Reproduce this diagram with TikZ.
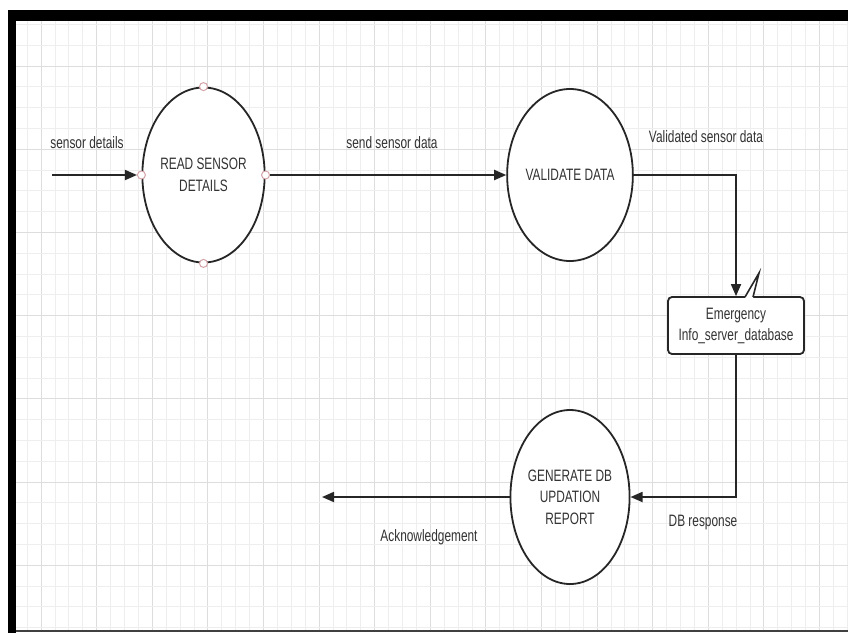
\documentclass[tikz,border=0pt]{standalone}
\usepackage{fontspec}
\setmainfont{Liberation Sans}[FakeStretch=0.72]
\usetikzlibrary{arrows.meta,shapes.geometric}
\definecolor{ink}{HTML}{262626}
\definecolor{txt}{HTML}{333333}
\definecolor{minorgrid}{HTML}{EEEEEE}
\definecolor{majorgrid}{HTML}{DDDDDD}
\definecolor{dotpink}{HTML}{D4A3A8}
\tikzset{
  proc/.style={ellipse, draw=ink, line width=1.8pt, fill=white, inner sep=0pt,
    text=txt, align=center, font=\fontsize{16.5}{21.5}\selectfont},
  store/.style={rectangle, rounded corners=4pt, draw=ink, line width=1.8pt, fill=white,
    minimum width=136pt, minimum height=57pt, inner sep=0pt, text=txt, align=center,
    font=\fontsize{16.5}{21}\selectfont},
  lbl/.style={text=txt, font=\fontsize{16.5}{20}\selectfont, inner sep=0pt},
  flow/.style={draw=ink, line width=1.8pt, -{Triangle[length=12pt,width=10pt]}},
  pdot/.style={circle, draw=dotpink, fill=white, line width=1pt, minimum size=8pt, inner sep=0pt}
}
\begin{document}
\begin{tikzpicture}[x=1pt,y=-1pt]
\useasboundingbox (0,0) rectangle (848,635);
\fill[white] (0,0) rectangle (848,635);
% grid
\foreach \i in {0,...,60} {
  \pgfmathsetmacro{\xx}{41+(\i-2)*13.9}
  \ifnum\i>0
  \pgfmathparse{mod(\i-2,4)==0 ? 1 : 0}
  \ifnum\pgfmathresult=1
    \draw[majorgrid, line width=1pt] (\xx,21) -- (\xx,631);
  \else
    \draw[minorgrid, line width=0.8pt] (\xx,21) -- (\xx,631);
  \fi
  \fi
}
\foreach \j in {0,...,32} {
  \pgfmathsetmacro{\yy}{66+(\j-2)*20.8}
  \pgfmathparse{mod(\j-2,4)==0 ? 1 : 0}
  \ifnum\pgfmathresult=1
    \draw[majorgrid, line width=1pt] (16,\yy) -- (848,\yy);
  \else
    \draw[minorgrid, line width=0.8pt] (16,\yy) -- (848,\yy);
  \fi
}
% clean margins
\fill[white] (0,0) rectangle (848,10);
\fill[white] (0,0) rectangle (8,635);
\fill[white] (0,633) rectangle (848,635);
% frame
\fill[black] (8,10) rectangle (848,21);
\fill[black] (8,10) rectangle (16,633);
\draw[black!75, line width=2pt] (16,631) -- (848,631);

% processes
\node[proc, minimum width=121pt, minimum height=175pt] (read) at (203.5,175) {READ SENSOR\\DETAILS};
\node[proc, minimum width=116pt, minimum height=172pt] (validate) at (570,175) {VALIDATE DATA};
\node[proc, minimum width=116pt, minimum height=174pt] (gen) at (570,497) {GENERATE DB\\UPDATION\\REPORT};
\node[store] (db) at (736,325.5) {Emergency\\Info\_server\_database};
% callout spike
\fill[white] (745,298) -- (759,273) -- (753,298) -- cycle;
\draw[ink, line width=1.6pt, line join=miter] (745,297) -- (759,273) -- (753,297);

% connection dots
\node[pdot] (dT) at (read.north) {};
\node[pdot] (dB) at (read.south) {};
\node[pdot] (dL) at (read.west) {};
\node[pdot] (dR) at (read.east) {};

% flows
\coordinate (src) at (52,175);
\coordinate (ack) at (322,497);
\draw[flow] (src) -- (dL.west);
\draw[flow] (dR.east) -- (validate.west);
\draw[flow] (validate.east) -| (db.north);
\draw[flow] (db.south) |- (gen.east);
\draw[flow] (gen.west) -- (ack);

% labels
\node[lbl] (l1) at (87,143) {sensor details};
\node[lbl] (l2) at (392,143) {send sensor data};
\node[lbl] (l3) at (706,137) {Validated sensor data};
\node[lbl] (l4) at (703,523) {DB response};
\node[lbl] (l5) at (429,537) {Acknowledgement};
\end{tikzpicture}
\end{document}
